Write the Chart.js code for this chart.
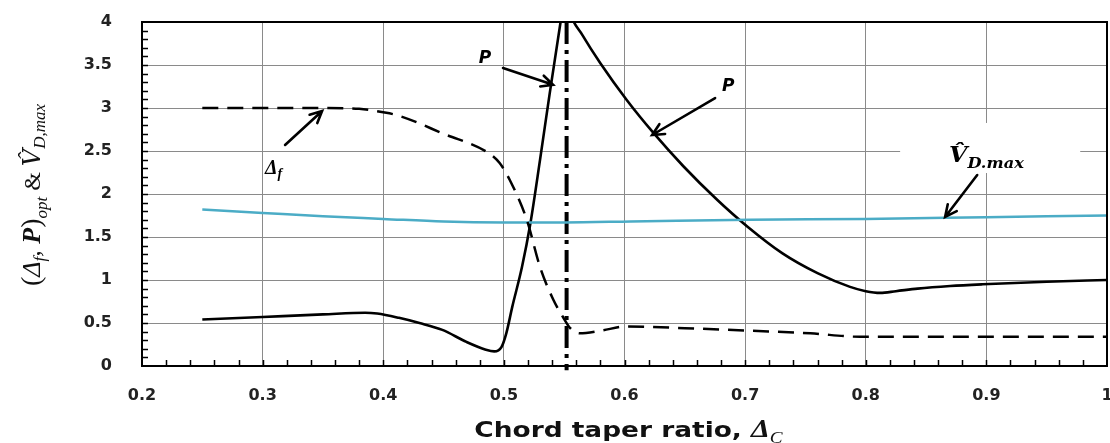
<!DOCTYPE html>
<html>
<head>
<meta charset="utf-8">
<script src="https://cdn.jsdelivr.net/npm/chart.js@4"></script>
<style>
  html, body { margin: 0; padding: 0; background: #fff; }
  #wrap { width: 1110px; height: 443px; position: relative; }
</style>
</head>
<body>
<div id="wrap"><canvas id="chart"></canvas></div>
<script>
'use strict';

// optimum P
var pX = [0.25, 0.30, 0.35, 0.385, 0.395, 0.413, 0.43, 0.449, 0.469, 0.485, 0.492, 0.498, 0.502, 0.507,
  0.515, 0.522, 0.530, 0.538, 0.547, 0.551, 0.555, 0.565, 0.580, 0.602, 0.624, 0.649, 0.677, 0.702,
  0.731, 0.760, 0.787, 0.800, 0.812, 0.825, 0.843, 0.870, 0.897, 0.950, 1.0];
var pY = [0.54, 0.57, 0.60, 0.62, 0.61, 0.56, 0.50, 0.42, 0.28, 0.19, 0.17, 0.22, 0.38, 0.69,
  1.15, 1.66, 2.40, 3.17, 4.00, 4.35, 4.10, 3.85, 3.52, 3.09, 2.71, 2.32, 1.93, 1.62,
  1.31, 1.08, 0.92, 0.87, 0.85, 0.87, 0.90, 0.93, 0.95, 0.98, 1.00];

// optimum delta f
var dfX = [0.25, 0.30, 0.35, 0.38, 0.40, 0.413, 0.45, 0.488, 0.4965, 0.505, 0.519, 0.530, 0.541,
  0.549, 0.555, 0.563, 0.580, 0.602, 0.650, 0.704, 0.754, 0.795, 0.850, 1.0];
var dfY = [3.00, 3.00, 3.00, 2.99, 2.95, 2.91, 2.70, 2.47, 2.36, 2.16, 1.70, 1.15, 0.77,
  0.57, 0.44, 0.38, 0.41, 0.46, 0.44, 0.41, 0.38, 0.34, 0.34, 0.34];

// V hat D,max
var vX = [0.25, 0.30, 0.35, 0.40, 0.45, 0.50, 0.55, 0.605, 0.704, 0.80, 0.90, 1.0];
var vY = [1.82, 1.78, 1.74, 1.71, 1.68, 1.67, 1.67, 1.68, 1.70, 1.71, 1.73, 1.75];

// vertical dash-dot marker
var markX = 0.552;
var markY = [4.0, -0.05];

var xTicks = [0.2, 0.3, 0.4, 0.5, 0.6, 0.7, 0.8, 0.9, 1];
var yTicks = [0, 0.5, 1, 1.5, 2, 2.5, 3, 3.5, 4];

// arrows in data units: [fromX, fromY, toX, toY]
var arrows = [
  [0.3186, 2.57, 0.3493, 2.965],
  [0.4993, 3.465, 0.5408, 3.27],
  [0.6751, 3.116, 0.6229, 2.686],
  [0.8924, 2.22, 0.8658, 1.733]
];

function pts(xs, ys) {
  return xs.map(function(x, i) { return { x: x, y: ys[i] }; });
}

function drawRuns(ctx, runs, cx, cy, rot, sx) {
  ctx.save();
  ctx.translate(cx, cy);
  ctx.rotate(rot);
  ctx.scale(sx || 1, 1);
  var w = 0;
  runs.forEach(function(r) { ctx.font = r.font; r.w = ctx.measureText(r.text).width; w += r.w; });
  var x = -w / 2;
  ctx.textBaseline = 'alphabetic';
  ctx.textAlign = 'left';
  runs.forEach(function(r) {
    ctx.font = r.font;
    ctx.fillText(r.text, x, r.dy || 0);
    x += r.w;
  });
  ctx.restore();
}

function arrow(ctx, x1, y1, x2, y2) {
  var a = Math.atan2(y2 - y1, x2 - x1);
  var h = 13;
  ctx.beginPath();
  ctx.moveTo(x1, y1);
  ctx.lineTo(x2, y2);
  ctx.moveTo(x2 - h * Math.cos(a - 0.45), y2 - h * Math.sin(a - 0.45));
  ctx.lineTo(x2, y2);
  ctx.lineTo(x2 - h * Math.cos(a + 0.45), y2 - h * Math.sin(a + 0.45));
  ctx.stroke();
}

var decor = {
  id: 'decor',
  beforeDatasetsDraw: function(chart) {
    var ctx = chart.ctx, xs = chart.scales.x, ys = chart.scales.y;
    // white box behind V label
    ctx.save();
    ctx.fillStyle = '#fff';
    var bx = xs.getPixelForValue(0.8285), by = ys.getPixelForValue(2.826);
    ctx.fillRect(bx, by, xs.getPixelForValue(0.9778) - bx, ys.getPixelForValue(2.244) - by);
    ctx.restore();
  },
  afterDatasetsDraw: function(chart) {
    var ctx = chart.ctx, xs = chart.scales.x, ys = chart.scales.y, a = chart.chartArea;
    ctx.save();
    ctx.strokeStyle = '#000';
    ctx.lineWidth = 1.5;
    // minor ticks, inside
    ctx.beginPath();
    for (var i = 1; i < 40; i++) {
      var py = Math.round(ys.getPixelForValue(i / 10)) + 0.5;
      ctx.moveTo(a.left, py); ctx.lineTo(a.left + 6, py);
    }
    for (var j = 11; j < 50; j++) {
      var px = Math.round(xs.getPixelForValue(j / 50)) + 0.5;
      ctx.moveTo(px, a.bottom); ctx.lineTo(px, a.bottom - 6);
    }
    ctx.stroke();
    // frame
    ctx.lineWidth = 2;
    ctx.strokeRect(a.left, a.top, a.right - a.left, a.bottom - a.top);

    // arrows
    ctx.lineWidth = 2.6;
    ctx.lineCap = 'round';
    arrows.forEach(function(r) {
      arrow(ctx, xs.getPixelForValue(r[0]), ys.getPixelForValue(r[1]),
        xs.getPixelForValue(r[2]), ys.getPixelForValue(r[3]));
    });

    ctx.fillStyle = '#000';
    // curve labels
    drawRuns(ctx, [{ text: 'P', font: 'bold italic 17px "DejaVu Sans"' }],
      xs.getPixelForValue(0.4844), ys.getPixelForValue(3.59) + 6, 0);
    drawRuns(ctx, [{ text: 'P', font: 'bold italic 17px "DejaVu Sans"' }],
      xs.getPixelForValue(0.6859), ys.getPixelForValue(3.27) + 6, 0);
    drawRuns(ctx, [
      { text: 'Δ', font: 'bold italic 20px "Liberation Serif"' },
      { text: 'f', font: 'bold italic 14px "Liberation Serif"', dy: 4 }
    ], xs.getPixelForValue(0.3090), ys.getPixelForValue(2.30) + 6, 0);
    drawRuns(ctx, [
      { text: 'V\u0302', font: 'bold italic 22px "DejaVu Serif"' },
      { text: 'D.max', font: 'bold italic 15px "DejaVu Serif"', dy: 6 }
    ], xs.getPixelForValue(0.9000), ys.getPixelForValue(2.45) + 7, 0, 1.08);

    // axis titles
    ctx.fillStyle = '#111';
    drawRuns(ctx, [
      { text: 'Chord taper ratio, ', font: 'bold 22px "DejaVu Sans"' },
      { text: 'Δ', font: 'bold italic 25px "Liberation Serif"' },
      { text: 'C', font: 'italic 16px "Liberation Serif"', dy: 6 }
    ], (a.left + a.right) / 2 + 4, 437, 0, 1.2);
    drawRuns(ctx, [
      { text: '(', font: '28px "Liberation Serif"' },
      { text: 'Δ', font: 'italic 26px "Liberation Serif"' },
      { text: 'f', font: 'italic 17px "Liberation Serif"', dy: 5 },
      { text: ', ', font: 'italic 26px "Liberation Serif"' },
      { text: 'P', font: 'bold italic 26px "Liberation Serif"' },
      { text: ')', font: '28px "Liberation Serif"' },
      { text: 'opt', font: 'italic 17px "Liberation Serif"', dy: 7 },
      { text: ' & ', font: '24px "Liberation Serif"' },
      { text: 'V\u0302', font: 'italic 24px "DejaVu Serif"' },
      { text: 'D,max', font: 'italic 17px "Liberation Serif"', dy: 5 }
    ], 40, 195, -Math.PI / 2);
    ctx.restore();
  }
};

var tickFont = { family: '"DejaVu Sans", Verdana, sans-serif', size: 16, weight: 'bold' };

new Chart(document.getElementById('chart'), {
  type: 'scatter',
  data: {
    datasets: [
      {
        label: 'Δf',
        data: pts(dfX, dfY),
        showLine: true,
        borderColor: '#000',
        borderWidth: 2.5,
        borderDash: [16, 9],
        cubicInterpolationMode: 'monotone',
        pointRadius: 0
      },
      {
        label: 'V',
        data: pts(vX, vY),
        showLine: true,
        borderColor: '#4bacc6',
        borderWidth: 2.5,
        cubicInterpolationMode: 'monotone',
        pointRadius: 0
      },
      {
        label: 'P',
        data: pts(pX, pY),
        showLine: true,
        borderColor: '#000',
        borderWidth: 2.6,
        cubicInterpolationMode: 'monotone',
        pointRadius: 0
      },
      {
        label: 'mark',
        data: markY.map(function(y) { return { x: markX, y: y }; }),
        showLine: true,
        borderColor: '#000',
        borderWidth: 4,
        borderDash: [22, 6, 4, 6],
        pointRadius: 0,
        clip: false
      }
    ]
  },
  options: {
    responsive: true,
    maintainAspectRatio: false,
    animation: false,
    layout: { padding: { top: 22, right: 3, left: 0, bottom: 0 } },
    plugins: {
      legend: { display: false },
      tooltip: { enabled: false }
    },
    scales: {
      x: {
        type: 'linear',
        min: 0.2,
        max: 1,
        afterFit: function(s) { s.height = 77; s.paddingLeft = 0; s.paddingRight = 0; },
        afterBuildTicks: function(s) { s.ticks = xTicks.map(function(v) { return { value: v }; }); },
        ticks: {
          padding: 20,
          color: '#222',
          font: tickFont,
          callback: function(v) { return String(Number(v.toFixed(2))); }
        },
        grid: { color: '#8a8a8a', lineWidth: 1, drawTicks: false },
        border: { color: '#000', width: 2 }
      },
      y: {
        min: 0,
        max: 4,
        afterFit: function(s) { s.width = 142; s.paddingTop = 0; s.paddingBottom = 0; },
        afterBuildTicks: function(s) { s.ticks = yTicks.map(function(v) { return { value: v }; }); },
        ticks: {
          padding: 30,
          color: '#222',
          font: tickFont,
          callback: function(v) { return String(Number(v.toFixed(2))); }
        },
        grid: { color: '#8a8a8a', lineWidth: 1, drawTicks: false },
        border: { color: '#000', width: 2 }
      }
    }
  },
  plugins: [decor]
});
</script>
</body>
</html>
